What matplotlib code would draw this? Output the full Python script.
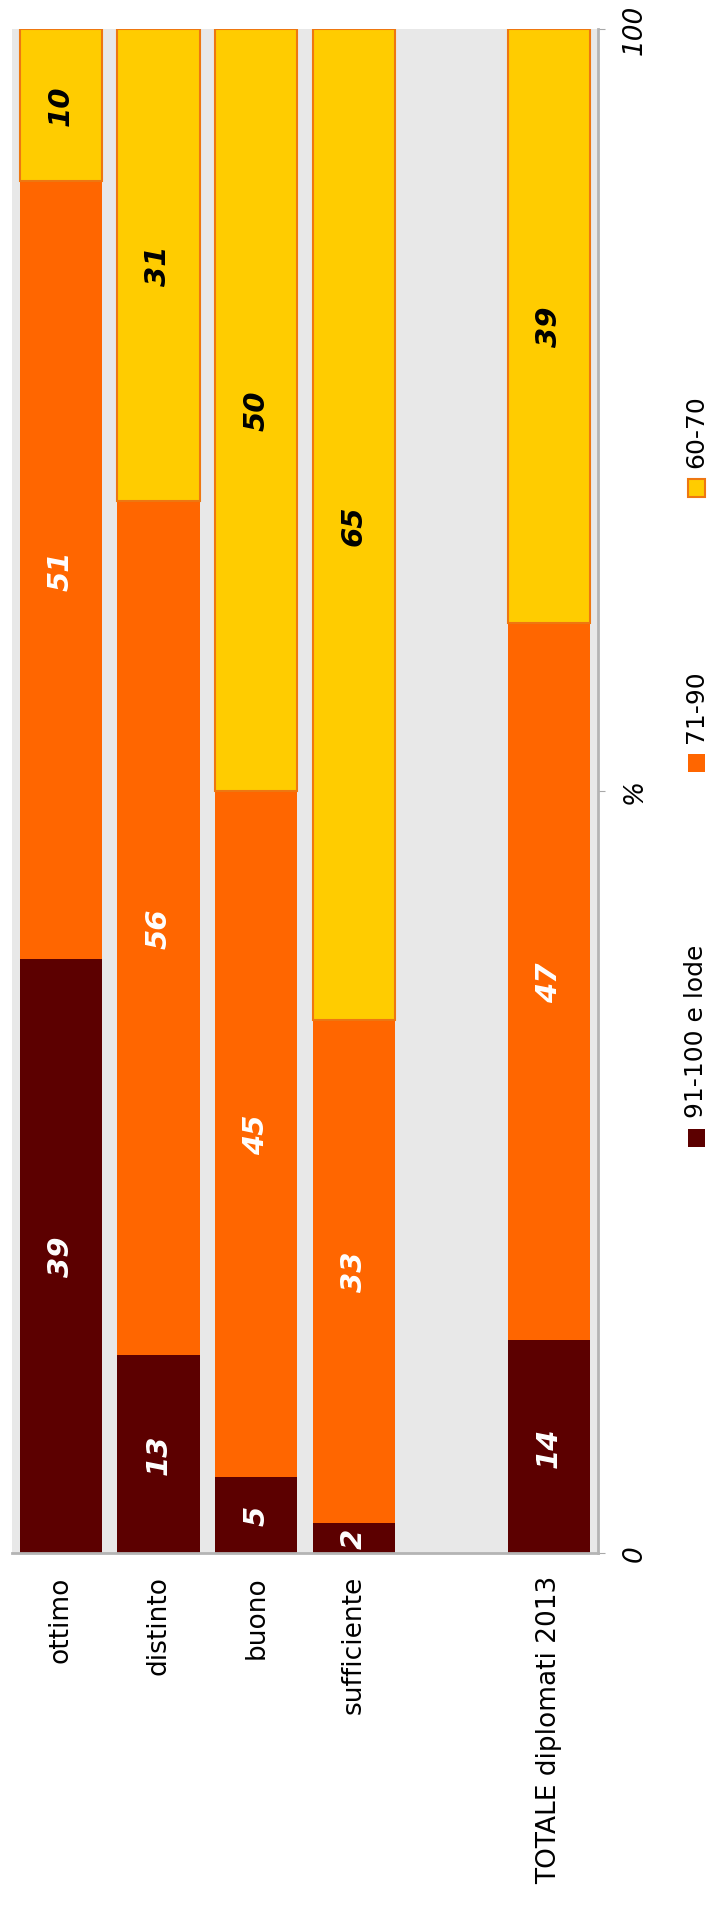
import matplotlib
matplotlib.use('Agg')
import matplotlib.pyplot as plt
from matplotlib.patches import Rectangle
import numpy as np

# dati
categorie = ['ottimo', 'distinto', 'buono', 'sufficiente', 'TOTALE diplomati 2013']
serie = ['91-100 e lode', '71-90', '60-70']
v_alto = [39, 13, 5, 2, 14]
v_medio = [51, 56, 45, 33, 47]
v_basso = [10, 31, 50, 65, 39]
tick_val = [0, 50, 100]
tick_lab = ['0', '%', '100']

colori = ['#5C0000', '#FF6600', '#FFCC00']
bordi = ['none', 'none', '#EE7711']
col_testo = ['white', 'white', 'black']

W, H = 709, 1906
fig = plt.figure(figsize=(W / 100, H / 100), dpi=100)
ax = fig.add_axes([12 / W, 1 - 1554 / H, (598 - 12) / W, (1554 - 30) / H])
ax.set_facecolor('#E8E8E8')

x = np.arange(len(categorie), dtype=float)
x[-1] += 1  # spazio vuoto prima del totale

base = np.zeros(len(categorie))
for valori, col, bordo, tc in zip([v_alto, v_medio, v_basso], colori, bordi, col_testo):
    valori = np.array(valori, dtype=float)
    ax.bar(x, valori, 0.84, bottom=base, color=col, edgecolor=bordo,
           linewidth=1.5 if bordo != 'none' else 0)
    for xi, b, v in zip(x, base, valori):
        ax.text(xi, b + v / 2, f"{v:.0f}", rotation=90, ha='center', va='center',
                color=tc, fontsize=21, fontweight='bold', fontstyle='italic')
    base += valori

ax.set_xlim(-0.5, 5.5)
ax.set_ylim(0, 100)
ax.yaxis.tick_right()
ax.set_yticks(tick_val)
ax.set_yticklabels(tick_lab, rotation=90, fontstyle='italic', fontsize=19, va='center')
ax.tick_params(axis='y', length=5, color='#A8A8A8', pad=12)
ax.set_xticks(x)
ax.set_xticklabels(categorie, rotation=90, fontsize=19, va='top', ha='center')
ax.tick_params(axis='x', length=0, pad=16)
for lato in ['left', 'top']:
    ax.spines[lato].set_visible(False)
for lato in ['right', 'bottom']:
    ax.spines[lato].set_color('#B4B4B4')
    ax.spines[lato].set_linewidth(2)

# legenda ruotata, disegnata a mano
fig.canvas.draw()
r = fig.canvas.get_renderer()
y = H - 1148
for s, col, bordo in zip(serie, colori, bordi):
    fig.add_artist(Rectangle((688 / W, y / H), 17 / W, 18 / H, transform=fig.transFigure,
                             facecolor=col, edgecolor=bordo, linewidth=1.5))
    t = fig.text(696 / W, (y + 18 + 12) / H, s, rotation=90, ha='center', va='bottom',
                 fontsize=18)
    h = t.get_window_extent(r).height
    y = y + 18 + 12 + h + 172

fig.savefig('out.png', dpi=100)
